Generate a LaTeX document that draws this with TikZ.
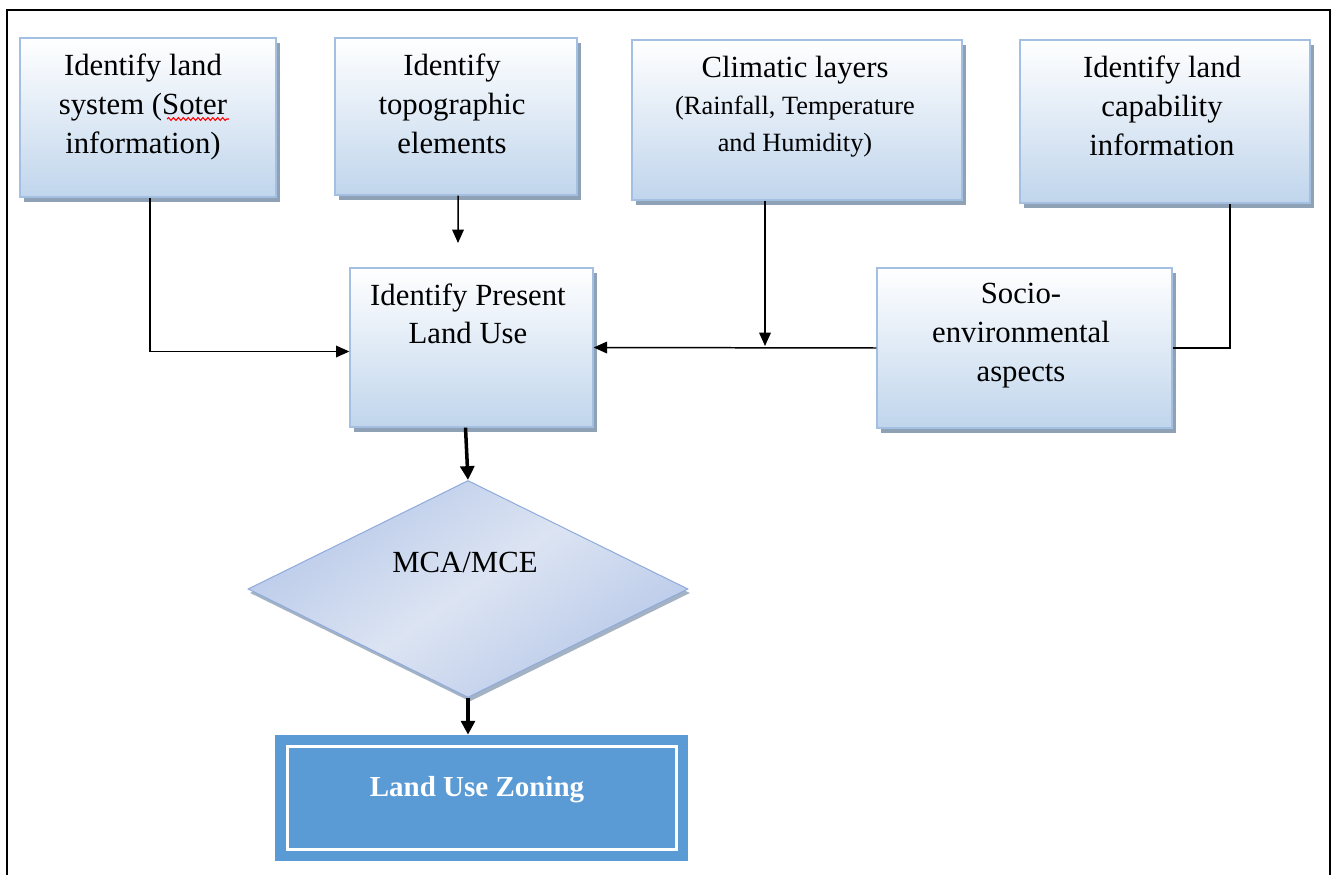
\documentclass[tikz,border=0pt]{standalone}
\usepackage{fontspec}
\setmainfont{Liberation Serif}
\usetikzlibrary{shapes.geometric,shadows,arrows.meta,decorations.pathmorphing}
\definecolor{boxbot}{HTML}{C0D5EC}
\definecolor{boxedge}{HTML}{A3BFE2}
\definecolor{boxshadow}{HTML}{8EA1B5}
\definecolor{dialight}{HTML}{DCE4F3}
\definecolor{diadark}{HTML}{B7C8E8}
\definecolor{diaedge}{HTML}{8FAADC}
\definecolor{zoneblue}{HTML}{5B9BD5}
\newdimen\px \px=0.02cm
\tikzset{
  bluebox/.style={draw=boxedge, line width=1.3\px, top color=white, bottom color=boxbot,
    inner sep=0pt,
    drop shadow={shadow xshift=4\px, shadow yshift=-5\px, fill=boxshadow, opacity=1}},
  lbl/.style={font=\fontsize{17.5}{22}\selectfont, align=center, anchor=north, inner sep=0pt},
  conn/.style={line width=0.85pt, -{Triangle[length=7.6pt, width=6.6pt]}},
  plainline/.style={line width=0.85pt},
  thickconn/.style={line width=2pt, -{Triangle[length=7.9pt, width=7.9pt]}},
}
\begin{document}
\begin{tikzpicture}[x=0.02cm, y=-0.02cm]
\useasboundingbox (0,0) rectangle (1335,875);
\fill[white] (0,0) rectangle (1335,875);
% outer frame
\draw[line width=2\px] (7,875) -- (7,10) -- (1330,10) -- (1330,875);

% top boxes
\node[bluebox, minimum width=256\px, minimum height=159\px] (b1) at (148,117.5) {};
\node[bluebox, minimum width=242\px, minimum height=157\px] (b2) at (456,116.5) {};
\node[bluebox, minimum width=330\px, minimum height=160\px] (b3) at (797,120) {};
\node[bluebox, minimum width=290\px, minimum height=163\px] (b4) at (1165,121.5) {};
% middle boxes
\node[bluebox, minimum width=243\px, minimum height=159\px] (b5) at (471.5,347.5) {};
\node[bluebox, minimum width=295\px, minimum height=160\px] (b6) at (1024.5,348) {};

% texts
\node[lbl] (t1) at (143,54) {Identify land\\system (Soter\\information)};
\coordinate (sq1) at (167,119);
\coordinate (sq2) at (229,119);
\draw[red, line width=0.6pt, decorate, decoration={snake, amplitude=0.8pt, segment length=2.8pt}] (sq1) -- (sq2);
\node[lbl] (t2) at (452,54) {Identify\\topographic\\elements};
\node[lbl] (t3) at (795,56) {Climatic layers\\[-1pt]{\fontsize{15}{20}\selectfont (Rainfall, Temperature}\\[-1pt]{\fontsize{15}{20}\selectfont and Humidity)}};
\node[lbl] (t4) at (1162,56) {Identify land\\capability\\information};
\node[lbl] (t5) at (468,283) {Identify Present\\Land Use};
\node[lbl] (t6) at (1021,283) {Socio-\\environmental\\aspects};

% diamond
\node[diamond, draw=diaedge, line width=1\px, minimum width=440\px, minimum height=217\px,
      inner sep=0pt, left color=diadark, right color=diadark, middle color=dialight, shading angle=35,
      drop shadow={shadow xshift=2\px, shadow yshift=-4\px, fill=boxshadow, opacity=0.8}] (d) at (468,589) {};
\node[font=\fontsize{17.5}{22}\selectfont, inner sep=0pt] (dt) at (465,562) {MCA/MCE};

% final box
\node[fill=zoneblue, minimum width=413\px, minimum height=126\px, inner sep=0pt] (z) at (481.5,798) {};
\draw[white, line width=2pt] ([shift={(0.26cm,-0.24cm)}]z.north west) rectangle ([shift={(-0.24cm,0.24cm)}]z.south east);
\node[font=\bfseries\fontsize{16.5}{20}\selectfont, text=white, inner sep=0pt] (zt) at (477,790) {Land Use Zoning};

% connectors
\coordinate (b2end) at (458,243);
\coordinate (j3) at (765,346);
\coordinate (j4) at (1230,348);
\draw[conn] ([xshift=0.04cm]b1.south) |- ([yshift=-0.08cm]b5.west);
\draw[conn] ([xshift=0.04cm]b2.south) -- (b2end);
\draw[conn] (b3.south -| j3) -- (j3);
\draw[conn] (b6.west) -- (b5.east);
\draw[plainline] (b4.south -| j4) |- (b6.east);
\draw[thickconn] ([xshift=-0.12cm]b5.south) -- (d.north);
\draw[thickconn] (d.south) -- (d.south |- z.north);
\end{tikzpicture}
\end{document}
